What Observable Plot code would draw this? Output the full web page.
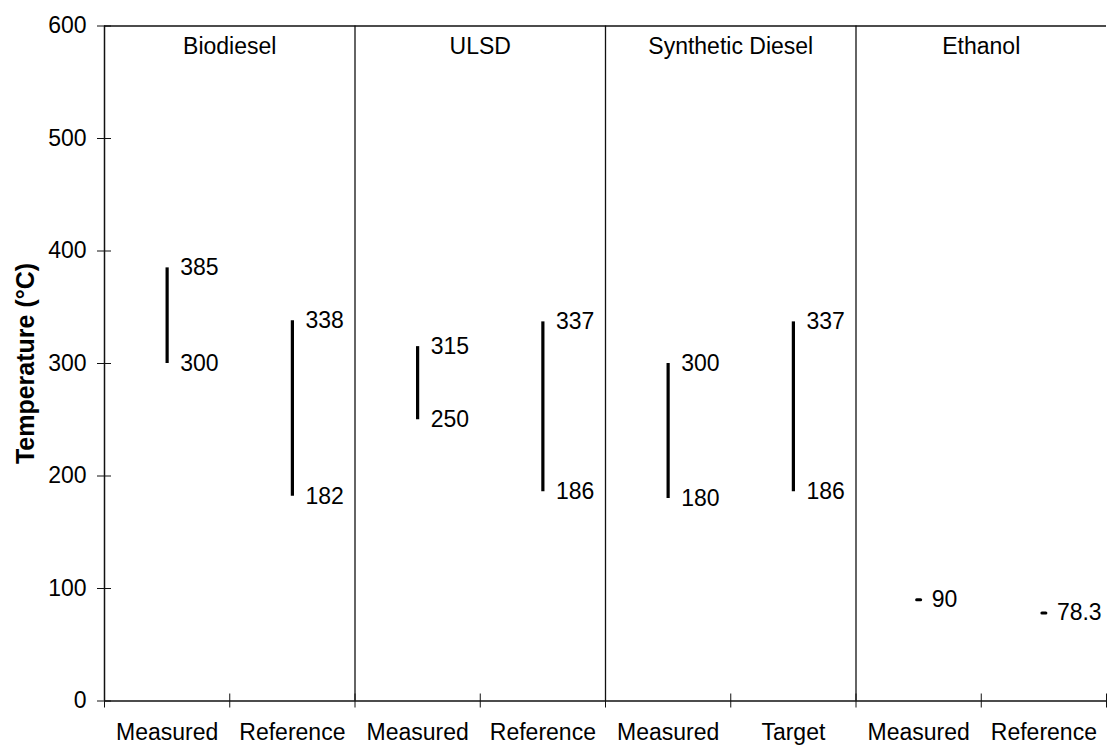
<!DOCTYPE html>
<html>
<head>
<meta charset="utf-8">
<script src="https://cdn.jsdelivr.net/npm/d3@7"></script>
<script src="https://cdn.jsdelivr.net/npm/@observablehq/plot@0.6"></script>
<style>
  html, body { margin: 0; padding: 0; background: #fff; }
  #chart svg { display: block; }
</style>
</head>
<body>
<div id="chart"></div>
<script>
// Data
const fuels = ["Biodiesel", "ULSD", "Synthetic Diesel", "Ethanol"];
const categories = ["Measured", "Reference", "Measured", "Reference", "Measured", "Target", "Measured", "Reference"];
const lowValues  = [300, 182, 250, 186, 180, 186, 90, 78.3];
const highValues = [385, 338, 315, 337, 300, 337, 90, 78.3];
const yTicks = [0, 100, 200, 300, 400, 500, 600];
const yLabel = "Temperature (°C)";

const rows = categories.map((c, i) => ({i, cat: c, low: lowValues[i], high: highValues[i]}));
const ranges = rows.filter(d => d.low !== d.high);
const points = rows.filter(d => d.low === d.high);
const lowLabels = ranges.map(d => ({i: d.i, v: d.low}));
const highLabels = rows.map(d => ({i: d.i, v: d.high}));
const boundaries = d3.range(0, categories.length + 1);
const dividers = fuels.slice(1).map((f, k) => (k + 1) * 2);

const font = "Liberation Sans, Arial, Helvetica, sans-serif";
const fs = 23;

const lineShape = { draw(context, l) { context.moveTo(0, 0); context.lineTo(0, -l); } };

const chart = Plot.plot({
  width: 1107,
  height: 745,
  marginLeft: 104,
  marginRight: 1,
  marginTop: 25.5,
  marginBottom: 44.5,
  style: { fontFamily: font, fontSize: fs + "px", color: "#000", background: "#fff" },
  x: { domain: [0, categories.length], axis: null },
  y: { domain: [0, 600], axis: null },
  marks: [
    // frame lines
    Plot.ruleY([0, 600], { x1: 0, x2: categories.length, stroke: "#111", strokeWidth: 1.5 }),
    Plot.ruleX([0], { y1: 0, y2: 600, stroke: "#111", strokeWidth: 1.5 }),
    Plot.ruleX(dividers, { y1: 0, y2: 600, stroke: "#111", strokeWidth: 1.3 }),
    // y axis: crossing ticks + labels
    Plot.axisY({ ticks: yTicks, tickSize: 14, dx: 7, tickFormat: () => "", stroke: "#111", label: null }),
    Plot.axisY({ ticks: yTicks, tickSize: 0, tickPadding: 18, fontSize: fs, label: null }),
    // x axis: crossing ticks at boundaries + category labels
    Plot.axisX({ ticks: boundaries, tickSize: 14, dy: -7, tickFormat: () => "", stroke: "#111", label: null }),
    Plot.axisX({ ticks: rows.map(d => d.i + 0.5), tickSize: 0, tickPadding: 23, fontSize: fs,
      tickFormat: d => categories[Math.floor(d)], label: null }),
    // panel titles
    Plot.text(fuels, { x: (d, k) => k * 2 + 1, y: 600, text: d => d, dy: 21, fontSize: fs }),
    // y axis title
    Plot.text([yLabel], { x: 0, y: 300, dx: -79, rotate: -90, textAnchor: "middle", text: d => d, fontSize: 25, fontWeight: "bold" }),
    // ranges
    Plot.ruleX(ranges, { x: d => d.i + 0.5, y1: "low", y2: "high", stroke: "#000", strokeWidth: 3.2 }),
    // single-value points
    Plot.vector(points, { x: d => d.i + 0.5, y: "high", length: 4, rotate: 90, anchor: "middle", shape: lineShape, stroke: "#000", strokeWidth: 3 }),
    // value labels
    Plot.text(highLabels, { x: d => d.i + 0.5, y: "v", text: d => String(d.v), dx: 13, textAnchor: "start", fontSize: fs }),
    Plot.text(lowLabels, { x: d => d.i + 0.5, y: "v", text: d => String(d.v), dx: 13, textAnchor: "start", fontSize: fs })
  ]
});
document.getElementById("chart").appendChild(chart);
</script>
</body>
</html>
